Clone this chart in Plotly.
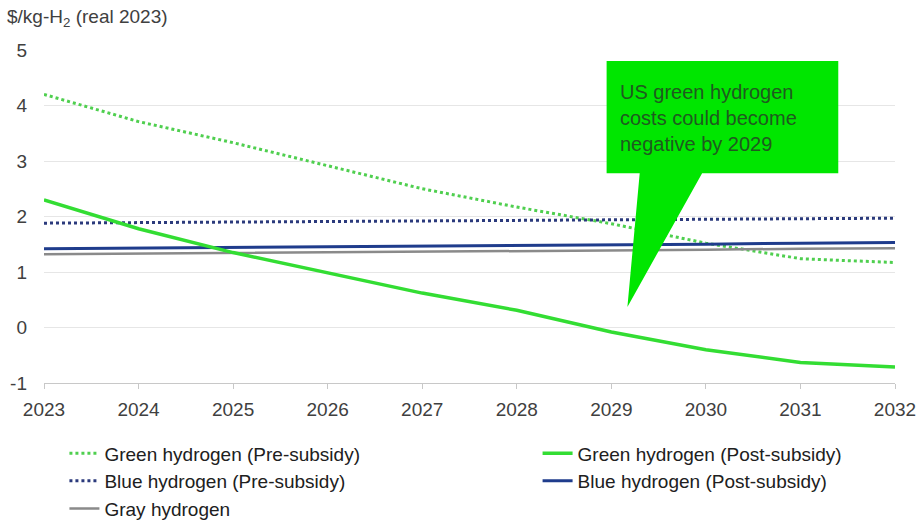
import plotly.graph_objects as go

years = [2023, 2024, 2025, 2026, 2027, 2028, 2029, 2030, 2031, 2032]
green_pre = [4.20, 3.71, 3.33, 2.91, 2.50, 2.17, 1.87, 1.52, 1.24, 1.17]
green_post = [2.30, 1.78, 1.35, 0.98, 0.62, 0.31, -0.08, -0.40, -0.63, -0.71]
blue_pre = [1.88, 1.89, 1.90, 1.91, 1.92, 1.93, 1.95, 1.96, 1.96, 1.97]
blue_post = [1.42, 1.43, 1.44, 1.46, 1.47, 1.48, 1.49, 1.50, 1.52, 1.53]
gray = [1.32, 1.33, 1.34, 1.36, 1.37, 1.38, 1.39, 1.40, 1.42, 1.43]
y_ticks = [-1, 0, 1, 2, 3, 4, 5]
y_ticktext = ["-1", "0", "1", "2", "3", "4", "5"]

FONT = "Liberation Sans, Arial, sans-serif"
TXT = "#404040"

fig = go.Figure()
fig.add_trace(go.Scatter(x=years, y=green_pre, mode="lines", name="Green hydrogen (Pre-subsidy)",
                         line=dict(color="#4fcf4f", width=3, dash="dot"), legend="legend"))
fig.add_trace(go.Scatter(x=years, y=blue_pre, mode="lines", name="Blue hydrogen (Pre-subsidy)",
                         line=dict(color="#2b3a7c", width=3, dash="dot"), legend="legend"))
fig.add_trace(go.Scatter(x=years, y=gray, mode="lines", name="Gray hydrogen",
                         line=dict(color="#8a8a8a", width=2.5), legend="legend"))
fig.add_trace(go.Scatter(x=years, y=blue_post, mode="lines", name="Blue hydrogen (Post-subsidy)",
                         line=dict(color="#1f3c8c", width=3), legend="legend2"))
fig.add_trace(go.Scatter(x=years, y=green_post, mode="lines", name="Green hydrogen (Post-subsidy)",
                         line=dict(color="#33dd33", width=3.5), legend="legend2"))

# callout box with pointer (data coordinates)
bx0, bx1, by0, by1 = 2028.95, 2031.40, 2.78, 4.80
px0, px1, tipx, tipy = 2029.30, 2029.96, 2029.17, 0.37
path = (f"M {bx0},{by1} L {bx1},{by1} L {bx1},{by0} L {px1},{by0} "
        f"L {tipx},{tipy} L {px0},{by0} L {bx0},{by0} Z")
fig.add_shape(type="path", path=path, xref="x", yref="y", fillcolor="#00e600",
              line=dict(width=0), layer="above")
fig.add_annotation(x=bx0 + 0.12, y=3.78, xref="x", yref="y", xanchor="left", yanchor="middle",
                   align="left", showarrow=False,
                   text="US green hydrogen<br>costs could become<br>negative by 2029",
                   font=dict(family=FONT, size=20, color="#1f5a1f"))

fig.add_annotation(x=-0.046, y=1.096, xref="paper", yref="paper", xanchor="left", yanchor="middle",
                   showarrow=False, text="$/kg-H<sub>2</sub> (real 2023)",
                   font=dict(family=FONT, size=19, color=TXT))

fig.update_layout(
    width=923, height=522,
    margin=dict(l=44, r=28, t=50, b=139, autoexpand=False),
    paper_bgcolor="white", plot_bgcolor="white",
    font=dict(family=FONT, size=19, color=TXT),
    showlegend=True,
    legend=dict(x=0.024, y=0.168, yref="container", xanchor="left", yanchor="top",
                orientation="v", font=dict(family=FONT, size=19, color="#202020"),
                tracegroupgap=0, bgcolor="rgba(0,0,0,0)", traceorder="normal"),
    legend2=dict(x=0.580, y=0.168, yref="container", xanchor="left", yanchor="top",
                 orientation="v", font=dict(family=FONT, size=19, color="#202020"),
                 tracegroupgap=0, bgcolor="rgba(0,0,0,0)", traceorder="reversed"),
    xaxis=dict(range=[2023, 2032], tickmode="array", tickvals=years,
               ticktext=[str(y) for y in years], showgrid=False, zeroline=False,
               showline=True, linecolor="#c8c8c8", linewidth=1,
               ticks="outside", ticklen=5, tickcolor="#c8c8c8",
               tickfont=dict(family=FONT, size=19, color=TXT), ticklabelstandoff=4),
    yaxis=dict(range=[-1, 5], tickmode="array", tickvals=y_ticks, ticktext=y_ticktext,
               showgrid=True, gridcolor="#e6e6e6",
               gridwidth=1, zeroline=False, showline=False, ticks="",
               tickfont=dict(family=FONT, size=19, color=TXT), ticklabelstandoff=16),
)

fig.write_html("out.html")
